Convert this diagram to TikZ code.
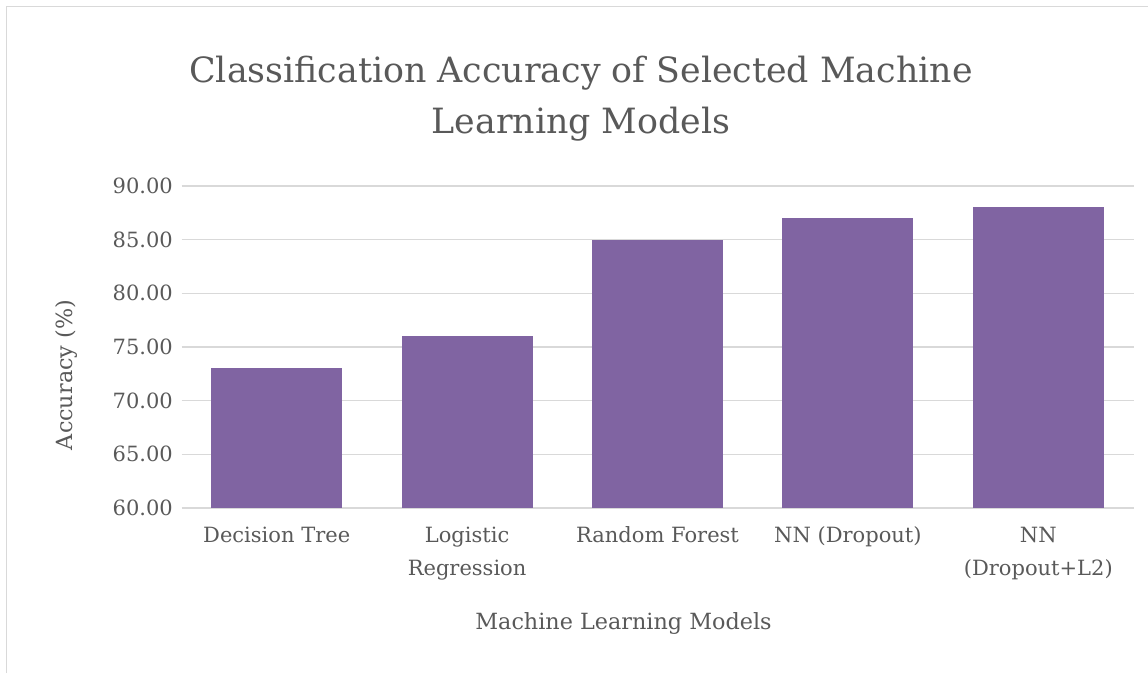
\documentclass[tikz,border=0pt]{standalone}
\usepackage{fontspec}
\setmainfont{DejaVu Serif}
\usepackage{xcolor}
\usepackage{tikz}

\definecolor{barpurple}{HTML}{8064A2}
\definecolor{txtgray}{HTML}{595959}
\definecolor{gridgray}{HTML}{D9D9D9}

\begin{document}
\begin{tikzpicture}[x=1pt, y=-1pt, every node/.style={
    rectangle,
    %draw,
    inner sep=0pt,
    text=txtgray,
    font=\fontsize{21}{33}\selectfont,
  }, bar/.style={fill=barpurple, minimum width=131pt, anchor=south},
  axtitle/.style={font=\fontsize{22.3}{33}\selectfont}]

  \useasboundingbox (0,0) rectangle (1148,673);
  \draw[gridgray, line width=1.5pt] (6.5,673) -- (6.5,6.5) -- (1148,6.5);

  \node[anchor=base, font=\fontsize{34.8}{51}\selectfont] (t1) at (581,82) {Classification Accuracy of Selected Machine};
  \node[anchor=base, font=\fontsize{34.8}{51}\selectfont] (t2) at (581,133) {Learning Models};

  \draw[gridgray, line width=1.5pt] (181.5,186) -- (1133.5,186);
  \draw[gridgray, line width=1.5pt] (181.5,239.7) -- (1133.5,239.7);
  \draw[gridgray, line width=1.5pt] (181.5,293.3) -- (1133.5,293.3);
  \draw[gridgray, line width=1.5pt] (181.5,347) -- (1133.5,347);
  \draw[gridgray, line width=1.5pt] (181.5,400.7) -- (1133.5,400.7);
  \draw[gridgray, line width=1.5pt] (181.5,454.3) -- (1133.5,454.3);
  \draw[gridgray, line width=1.5pt] (181.5,508) -- (1133.5,508);

  \node[anchor=east] (y90) at (173,186) {90.00};
  \node[anchor=east] (y85) at (173,239.7) {85.00};
  \node[anchor=east] (y80) at (173,293.3) {80.00};
  \node[anchor=east] (y75) at (173,347) {75.00};
  \node[anchor=east] (y70) at (173,400.7) {70.00};
  \node[anchor=east] (y65) at (173,454.3) {65.00};
  \node[anchor=east] (y60) at (173,508) {60.00};

  \node[bar, minimum height=139.5pt] (b1) at (276.7,508) {};
  \node[bar, minimum height=171.7pt] (b2) at (467.1,508) {};
  \node[bar, minimum height=268.3pt] (b3) at (657.5,508) {};
  \node[bar, minimum height=289.8pt] (b4) at (847.9,508) {};
  \node[bar, minimum height=300.5pt] (b5) at (1038.3,508) {};

  % two-line labels sit on the baseline of their last line
  \node[anchor=base] (c1) at (276.7,542) {Decision Tree};
  \node[anchor=base, align=center] (c2) at (467.1,575) {Logistic\\Regression};
  \node[anchor=base] (c3) at (657.5,542) {Random Forest};
  \node[anchor=base] (c4) at (847.9,542) {NN (Dropout)};
  \node[anchor=base, align=center] (c5) at (1038.3,575) {NN\\(Dropout+L2)};

  \node[axtitle, anchor=base] (xt) at (623.5,629) {Machine Learning Models};
  \node[axtitle, rotate=90] (yt) at (67,375) {Accuracy (\%)};

\end{tikzpicture}
\end{document}
